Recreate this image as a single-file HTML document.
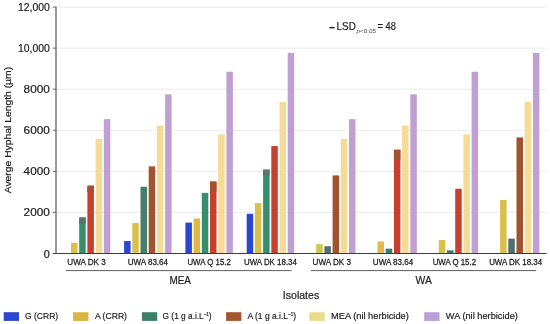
<!DOCTYPE html>
<html><head><meta charset="utf-8"><title>Chart</title>
<style>
html,body{margin:0;padding:0;background:#fff;}
svg{display:block;font-family:"Liberation Sans",sans-serif;fill:#1d1d1d;}
text{stroke:#1d1d1d;stroke-width:0.2px;}
</style></head><body>
<svg width="550" height="324" viewBox="0 0 550 324">
<rect width="550" height="324" fill="#fff"/>

<line x1="56.5" x2="546.6" y1="212.35" y2="212.35" stroke="#e7e7e7" stroke-width="0.8"/>
<line x1="56.5" x2="546.6" y1="171.30" y2="171.30" stroke="#e7e7e7" stroke-width="0.8"/>
<line x1="56.5" x2="546.6" y1="130.25" y2="130.25" stroke="#e7e7e7" stroke-width="0.8"/>
<line x1="56.5" x2="546.6" y1="89.20" y2="89.20" stroke="#e7e7e7" stroke-width="0.8"/>
<line x1="56.5" x2="546.6" y1="48.15" y2="48.15" stroke="#e7e7e7" stroke-width="0.8"/>
<line x1="56.5" x2="546.6" y1="7.10" y2="7.10" stroke="#e7e7e7" stroke-width="0.8"/>
<rect x="71.00" y="242.73" width="6.5" height="10.67" fill="#d9c04a"/>
<rect x="79.20" y="217.48" width="6.5" height="35.92" fill="#368e6c"/>
<rect x="87.40" y="185.67" width="6.5" height="67.73" fill="#c6402e"/>
<rect x="95.60" y="138.87" width="6.5" height="114.53" fill="#f6db97"/>
<rect x="103.80" y="119.17" width="6.5" height="134.23" fill="#bfa0d2"/>
<rect x="124.10" y="241.09" width="6.5" height="12.32" fill="#2b46cf"/>
<rect x="132.30" y="223.02" width="6.5" height="30.38" fill="#d9c04a"/>
<rect x="140.50" y="186.69" width="6.5" height="66.71" fill="#46806c"/>
<rect x="148.70" y="166.37" width="6.5" height="87.03" fill="#a2522d"/>
<rect x="156.90" y="125.53" width="6.5" height="127.87" fill="#f6db97"/>
<rect x="165.10" y="94.33" width="6.5" height="159.07" fill="#bfa0d2"/>
<rect x="185.40" y="222.61" width="6.5" height="30.79" fill="#2b46cf"/>
<rect x="193.60" y="218.51" width="6.5" height="34.89" fill="#e0b94a"/>
<rect x="201.80" y="192.85" width="6.5" height="60.55" fill="#368e6c"/>
<rect x="210.00" y="181.56" width="6.5" height="71.84" fill="#c6402e"/>
<rect x="218.20" y="134.35" width="6.5" height="119.05" fill="#f6db97"/>
<rect x="226.40" y="71.75" width="6.5" height="181.65" fill="#bfa0d2"/>
<rect x="246.70" y="213.79" width="6.5" height="39.61" fill="#2b46cf"/>
<rect x="254.90" y="203.11" width="6.5" height="50.29" fill="#d9c04a"/>
<rect x="263.10" y="169.66" width="6.5" height="83.74" fill="#368e6c"/>
<rect x="271.30" y="146.05" width="6.5" height="107.35" fill="#c6402e"/>
<rect x="279.50" y="101.93" width="6.5" height="151.47" fill="#f6db97"/>
<rect x="287.70" y="52.87" width="6.5" height="200.53" fill="#bfa0d2"/>
<rect x="316.20" y="244.16" width="6.5" height="9.24" fill="#c9c94e"/>
<rect x="324.40" y="246.22" width="6.5" height="7.18" fill="#5a6b70"/>
<rect x="332.60" y="175.41" width="6.5" height="78.00" fill="#a2522d"/>
<rect x="340.80" y="138.87" width="6.5" height="114.53" fill="#f6db97"/>
<rect x="349.00" y="119.17" width="6.5" height="134.23" fill="#bfa0d2"/>
<rect x="377.50" y="241.50" width="6.5" height="11.90" fill="#e2b950"/>
<rect x="385.70" y="248.68" width="6.5" height="4.72" fill="#40796a"/>
<rect x="393.90" y="149.75" width="6.5" height="103.65" fill="#c6402e"/>
<rect x="402.10" y="125.53" width="6.5" height="127.87" fill="#f6db97"/>
<rect x="410.30" y="94.33" width="6.5" height="159.07" fill="#bfa0d2"/>
<rect x="438.80" y="240.06" width="6.5" height="13.34" fill="#d9c04a"/>
<rect x="447.00" y="250.32" width="6.5" height="3.08" fill="#4a7070"/>
<rect x="455.20" y="188.75" width="6.5" height="64.65" fill="#c6402e"/>
<rect x="463.40" y="134.35" width="6.5" height="119.05" fill="#f6db97"/>
<rect x="471.60" y="71.75" width="6.5" height="181.65" fill="#bfa0d2"/>
<rect x="500.10" y="200.03" width="6.5" height="53.37" fill="#d9c04a"/>
<rect x="508.30" y="238.62" width="6.5" height="14.78" fill="#4f7070"/>
<rect x="516.50" y="137.43" width="6.5" height="115.97" fill="#a2522d"/>
<rect x="524.70" y="101.93" width="6.5" height="151.47" fill="#f6db97"/>
<rect x="532.90" y="52.87" width="6.5" height="200.53" fill="#bfa0d2"/>
<rect x="79.20" y="217.48" width="6.5" height="6.32" fill="#56766a"/>
<rect x="87.40" y="185.67" width="6.5" height="6.33" fill="#a4522e"/>
<rect x="210.00" y="181.56" width="6.5" height="10.04" fill="#a4522e"/>
<rect x="263.10" y="169.66" width="6.5" height="5.44" fill="#56766a"/>
<rect x="393.90" y="149.75" width="6.5" height="9.85" fill="#a4522e"/>
<line x1="56.0" x2="56.0" y1="6.65" y2="253.85" stroke="#777" stroke-width="1.5"/>
<line x1="52.8" x2="546.6" y1="253.5" y2="253.5" stroke="#3c3c3c" stroke-width="1.1"/>
<text x="43.80" y="257.70" font-size="10.4" textLength="6.00" lengthAdjust="spacingAndGlyphs" >0</text>
<line x1="52.8" x2="56.0" y1="212.35" y2="212.35" stroke="#5a5a5a" stroke-width="0.9"/>
<text x="23.60" y="216.25" font-size="10.4" textLength="26.20" lengthAdjust="spacingAndGlyphs" >2000</text>
<line x1="52.8" x2="56.0" y1="171.30" y2="171.30" stroke="#5a5a5a" stroke-width="0.9"/>
<text x="23.60" y="175.20" font-size="10.4" textLength="26.20" lengthAdjust="spacingAndGlyphs" >4000</text>
<line x1="52.8" x2="56.0" y1="130.25" y2="130.25" stroke="#5a5a5a" stroke-width="0.9"/>
<text x="23.60" y="134.15" font-size="10.4" textLength="26.20" lengthAdjust="spacingAndGlyphs" >6000</text>
<line x1="52.8" x2="56.0" y1="89.20" y2="89.20" stroke="#5a5a5a" stroke-width="0.9"/>
<text x="23.60" y="93.10" font-size="10.4" textLength="26.20" lengthAdjust="spacingAndGlyphs" >8000</text>
<line x1="52.8" x2="56.0" y1="48.15" y2="48.15" stroke="#5a5a5a" stroke-width="0.9"/>
<text x="18.00" y="52.05" font-size="10.4" textLength="31.80" lengthAdjust="spacingAndGlyphs" >10,000</text>
<line x1="52.8" x2="56.0" y1="7.10" y2="7.10" stroke="#5a5a5a" stroke-width="0.9"/>
<text x="18.00" y="11.00" font-size="10.4" textLength="31.80" lengthAdjust="spacingAndGlyphs" >12,000</text>
<text x="67.35" y="264.50" font-size="8.7" textLength="38.40" lengthAdjust="spacingAndGlyphs" style="stroke-width:0.26px">UWA DK 3</text>
<text x="127.65" y="264.50" font-size="8.7" textLength="40.40" lengthAdjust="spacingAndGlyphs" style="stroke-width:0.26px">UWA 83.64</text>
<text x="187.45" y="264.50" font-size="8.7" textLength="43.40" lengthAdjust="spacingAndGlyphs" style="stroke-width:0.26px">UWA Q 15.2</text>
<text x="243.95" y="264.50" font-size="8.7" textLength="53.00" lengthAdjust="spacingAndGlyphs" style="stroke-width:0.26px">UWA DK 18.34</text>
<text x="312.55" y="264.50" font-size="8.7" textLength="38.40" lengthAdjust="spacingAndGlyphs" style="stroke-width:0.26px">UWA DK 3</text>
<text x="372.85" y="264.50" font-size="8.7" textLength="40.40" lengthAdjust="spacingAndGlyphs" style="stroke-width:0.26px">UWA 83.64</text>
<text x="432.65" y="264.50" font-size="8.7" textLength="43.40" lengthAdjust="spacingAndGlyphs" style="stroke-width:0.26px">UWA Q 15.2</text>
<text x="489.15" y="264.50" font-size="8.7" textLength="53.00" lengthAdjust="spacingAndGlyphs" style="stroke-width:0.26px">UWA DK 18.34</text>
<line x1="65.8" x2="291.5" y1="270.6" y2="270.6" stroke="#333" stroke-width="0.8"/>
<line x1="311" x2="536.2" y1="270.6" y2="270.6" stroke="#333" stroke-width="0.8"/>
<text x="169.40" y="283.70" font-size="10.6" textLength="21.60" lengthAdjust="spacingAndGlyphs" >MEA</text>
<text x="415.50" y="283.70" font-size="10.6" textLength="16.30" lengthAdjust="spacingAndGlyphs" >WA</text>
<text x="282.80" y="299.00" font-size="10.6" textLength="36.40" lengthAdjust="spacingAndGlyphs" >Isolates</text>
<g transform="translate(10.9,193.3) rotate(-90)"><text x="0.00" y="0.00" font-size="9.7" textLength="126.40" lengthAdjust="spacingAndGlyphs" >Averge Hyphal Length (µm)</text></g>
<rect x="329.5" y="26.9" width="5" height="1.5" fill="#222"/>
<text x="336.60" y="29.80" font-size="10.6" textLength="19.20" lengthAdjust="spacingAndGlyphs" >LSD</text>
<text x="356.40" y="33.10" font-size="5.9" textLength="19.60" lengthAdjust="spacingAndGlyphs" style="fill:#4a4a4a;stroke:none"><tspan font-style="italic">p</tspan>&lt;0.05</text>
<text x="377.60" y="29.80" font-size="10.6" textLength="18.20" lengthAdjust="spacingAndGlyphs" >= 48</text>
<rect x="3.7" y="312.2" width="15.3" height="8.7" fill="#2b46cf"/>
<text x="25.00" y="319.40" font-size="9.7" textLength="33.20" lengthAdjust="spacingAndGlyphs" >G (CRR)</text>
<rect x="73.1" y="312.2" width="15.3" height="8.7" fill="#d8b544"/>
<text x="94.90" y="319.40" font-size="9.7" textLength="32.10" lengthAdjust="spacingAndGlyphs" >A (CRR)</text>
<rect x="141.9" y="312.2" width="15.3" height="8.7" fill="#3d8068"/>
<text x="162.60" y="319.40" font-size="9.7" textLength="49.00" lengthAdjust="spacingAndGlyphs" >G (1 g a.i.L<tspan font-size="5.2" dy="-3.8">−1</tspan><tspan dy="3.8">)</tspan></text>
<rect x="226.1" y="312.2" width="15.3" height="8.7" fill="#a4562e"/>
<text x="247.40" y="319.40" font-size="9.7" textLength="48.70" lengthAdjust="spacingAndGlyphs" >A (1 g a.i.L<tspan font-size="5.2" dy="-3.8">−1</tspan><tspan dy="3.8">)</tspan></text>
<rect x="309.4" y="312.2" width="15.3" height="8.7" fill="#eadb8c"/>
<text x="331.00" y="319.40" font-size="9.7" textLength="77.80" lengthAdjust="spacingAndGlyphs" >MEA (nil herbicide)</text>
<rect x="424.2" y="312.2" width="15.3" height="8.7" fill="#b9a0d6"/>
<text x="445.80" y="319.40" font-size="9.7" textLength="72.10" lengthAdjust="spacingAndGlyphs" >WA (nil herbicide)</text>
</svg></body></html>
